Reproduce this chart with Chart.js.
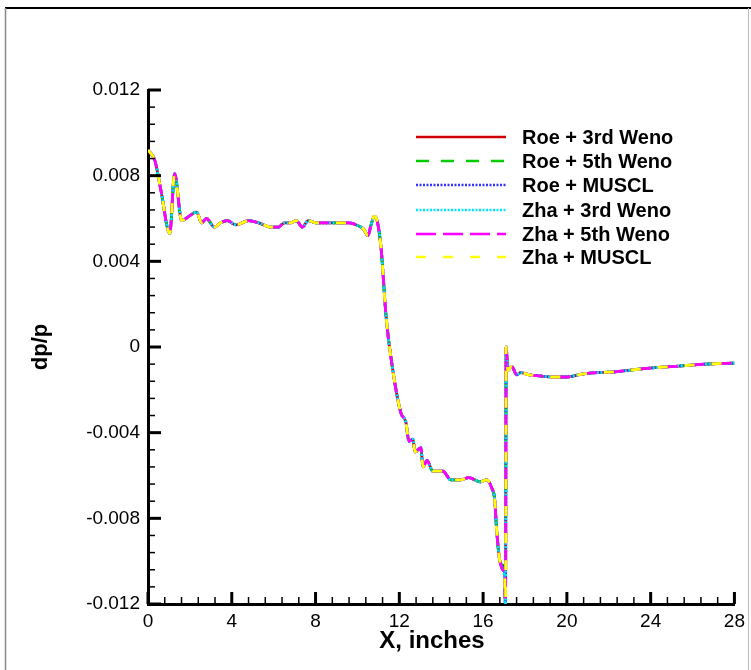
<!DOCTYPE html>
<html><head><meta charset="utf-8">
<script src="https://cdn.jsdelivr.net/npm/chart.js@4"></script>
<style>html,body{margin:0;padding:0;background:#fff}#wrap{position:relative;width:751px;height:670px}</style>
</head><body><div id="wrap"><canvas id="c" width="751" height="670"></canvas></div>
<script>
const seriesNames = ['Roe + 3rd Weno','Roe + 5th Weno','Roe + MUSCL','Zha + 3rd Weno','Zha + 5th Weno','Zha + MUSCL'];
const xValues = [0,0.33,0.62,1.04,1.27,1.61,1.95,2.32,2.56,2.79,3.17,3.47,3.78,4.21,4.80,5.28,5.85,6.23,6.51,6.80,7.08,7.37,7.65,8.03,8.60,9.1,9.6,9.95,10.3,10.5,10.65,10.8,10.94,11.13,11.37,11.74,12.08,12.31,12.46,12.65,12.75,13.03,13.13,13.32,13.6,14.08,14.46,14.93,15.31,15.88,16.17,16.42,16.55,16.65,16.8,16.93,17.03,17.07,17.1,17.18,17.37,17.6,17.79,18.2,18.7,19.35,19.95,20.8,22.4,23.8,25.2,26.6,28];
const roeY = [0.0092,0.0087,0.0073,0.0053,0.0081,0.0059,0.0061,0.0063,0.0058,0.0060,0.0056,0.0058,0.0059,0.0057,0.0059,0.0058,0.0056,0.0056,0.0058,0.0058,0.0059,0.0056,0.0059,0.0058,0.0058,0.0058,0.0058,0.0057,0.0055,0.0052,0.0057,0.0061,0.0059,0.0046,0.0014,-0.0014,-0.0031,-0.0035,-0.0044,-0.0043,-0.0049,-0.0047,-0.0056,-0.0053,-0.0058,-0.0058,-0.0062,-0.0062,-0.0061,-0.0063,-0.0062,-0.0066,-0.0071,-0.0086,-0.0100,-0.0102,-0.0105,-0.0125,0.0000,-0.0011,-0.0009,-0.0013,-0.0012,-0.0013,-0.00135,-0.0014,-0.0014,-0.00125,-0.00115,-0.0010,-0.0009,-0.0008,-0.00075];
const zhaY = [0.0092,0.0087,0.0073,0.0053,0.0081,0.0059,0.0061,0.0063,0.0058,0.0060,0.0056,0.0058,0.0059,0.0057,0.0059,0.0058,0.0056,0.0056,0.0058,0.0058,0.0059,0.0056,0.0059,0.0058,0.0058,0.0058,0.0058,0.0057,0.0055,0.0052,0.0057,0.0061,0.0059,0.0046,0.0014,-0.0014,-0.0031,-0.0035,-0.0044,-0.0043,-0.0049,-0.0047,-0.0056,-0.0053,-0.0058,-0.0058,-0.0062,-0.0062,-0.0061,-0.0063,-0.0062,-0.0066,-0.0071,-0.0086,-0.0100,-0.0104,-0.0108,-0.0125,0.0000,-0.0011,-0.0009,-0.0013,-0.0012,-0.0013,-0.00135,-0.0014,-0.0014,-0.00125,-0.00115,-0.0010,-0.0009,-0.0008,-0.00075];
const xTickValues = [0,4,8,12,16,20,24,28];
const yTickValues = [-0.012,-0.008,-0.004,0,0.004,0.008,0.012];

const seriesY = [roeY, roeY, roeY, zhaY, zhaY, zhaY];
const colors = ['#d00000','#00cc00','#3333ff','#00e5ff','#ff00ff','#ffff00'];
const dashes = [[],[13,12],[2,1.5],[2,1.5],[20,7],[10,17]];

const datasets = seriesNames.map((name,i)=>({
  label: name,
  data: xValues.map((x,j)=>({x:x, y:seriesY[i][j]})),
  borderColor: colors[i],
  borderDash: dashes[i],
  borderWidth: 2.8,
  pointRadius: 0,
  fill: false,
  cubicInterpolationMode: 'monotone',
  order: 6 - i
}));

const fmtY = v => Math.abs(v) < 1e-9 ? '0' : v.toFixed(3);
const tickFont = { family: '"Liberation Sans", Arial', size: 19 };

const decor = {
  id: 'decor',
  beforeDraw(chart){
    const ctx = chart.ctx;
    ctx.save();
    ctx.fillStyle = '#fff';
    ctx.fillRect(0,0,chart.width,chart.height);
    ctx.strokeStyle = '#000'; ctx.lineWidth = 2;
    ctx.beginPath(); ctx.moveTo(5,8); ctx.lineTo(751,8); ctx.stroke();
    ctx.strokeStyle = '#888'; ctx.lineWidth = 1.5;
    ctx.beginPath(); ctx.moveTo(5.5,8); ctx.lineTo(5.5,670); ctx.stroke();
    ctx.strokeStyle = '#bbb'; ctx.lineWidth = 1;
    ctx.beginPath(); ctx.moveTo(748.5,8); ctx.lineTo(748.5,670); ctx.stroke();
    ctx.restore();
  },
  afterDraw(chart){
    const {ctx, chartArea:a, scales:{x,y}} = chart;
    ctx.save();
    ctx.strokeStyle = '#000';
    for (let i=0;i<=35;i++){
      const v = i*0.8; const px = x.getPixelForValue(v);
      const major = i%5===0;
      ctx.lineWidth = major?3:1.5;
      ctx.beginPath(); ctx.moveTo(px, a.bottom); ctx.lineTo(px, a.bottom-(major?12:7)); ctx.stroke();
    }
    for (let i=0;i<=30;i++){
      const v = -0.012 + i*0.0008; const py = y.getPixelForValue(v);
      const major = i%5===0;
      ctx.lineWidth = major?3:1.5;
      ctx.beginPath(); ctx.moveTo(a.left, py); ctx.lineTo(a.left+(major?13:7), py); ctx.stroke();
    }
    ctx.fillStyle = '#000';
    ctx.font = 'bold 24px "Liberation Sans", Arial, sans-serif';
    ctx.textAlign = 'center'; ctx.textBaseline = 'middle';
    ctx.fillText('X, inches', 432, 641);
    const rows = [137,161,185,210,234,257];
    ctx.font = 'bold 20px "Liberation Sans", Arial, sans-serif';
    ctx.textBaseline = 'middle'; ctx.textAlign = 'left';
    chart.data.datasets.forEach((ds,i)=>{
      ctx.strokeStyle = ds.borderColor; ctx.lineWidth = 2.6;
      ctx.setLineDash(ds.borderDash);
      ctx.beginPath(); ctx.moveTo(416, rows[i]); ctx.lineTo(506, rows[i]); ctx.stroke();
      ctx.setLineDash([]);
      ctx.fillStyle = '#000';
      ctx.fillText(ds.label, 522, rows[i]+1);
    });
    ctx.restore();
  }
};

new Chart(document.getElementById('c'), {
  type: 'line',
  data: { datasets },
  options: {
    responsive: false, animation: false, devicePixelRatio: 1,
    layout: { padding: { left: 0, right: 11, top: 90, bottom: 0 } },
    plugins: { legend: { display: false }, tooltip: { enabled: false } },
    scales: {
      x: {
        type: 'linear', min: 0, max: 28,
        afterFit(s){ s.height = 66; },
        afterBuildTicks(s){ s.ticks = xTickValues.map(v=>({value:v})); },
        ticks: { padding: 6, color: '#000', font: tickFont, maxRotation: 0 },
        grid: { display: false, drawTicks: false },
        border: { display: true, color: '#000', width: 3 },
        title: { display: false }
      },
      y: {
        type: 'linear', min: -0.012, max: 0.012,
        afterFit(s){ s.width = 148; },
        afterBuildTicks(s){ s.ticks = yTickValues.map(v=>({value:v})); },
        ticks: { padding: 8, color: '#000', font: tickFont, callback: v => fmtY(v) },
        grid: { display: false, drawTicks: false },
        border: { display: true, color: '#000', width: 3 },
        title: { display: true, text: 'dp/p', color: '#000', font: { family: '"Liberation Sans", Arial', size: 22, weight: 'bold' }, padding: { top: 28, bottom: 0 } }
      }
    }
  },
  plugins: [decor]
});
</script></body></html>
